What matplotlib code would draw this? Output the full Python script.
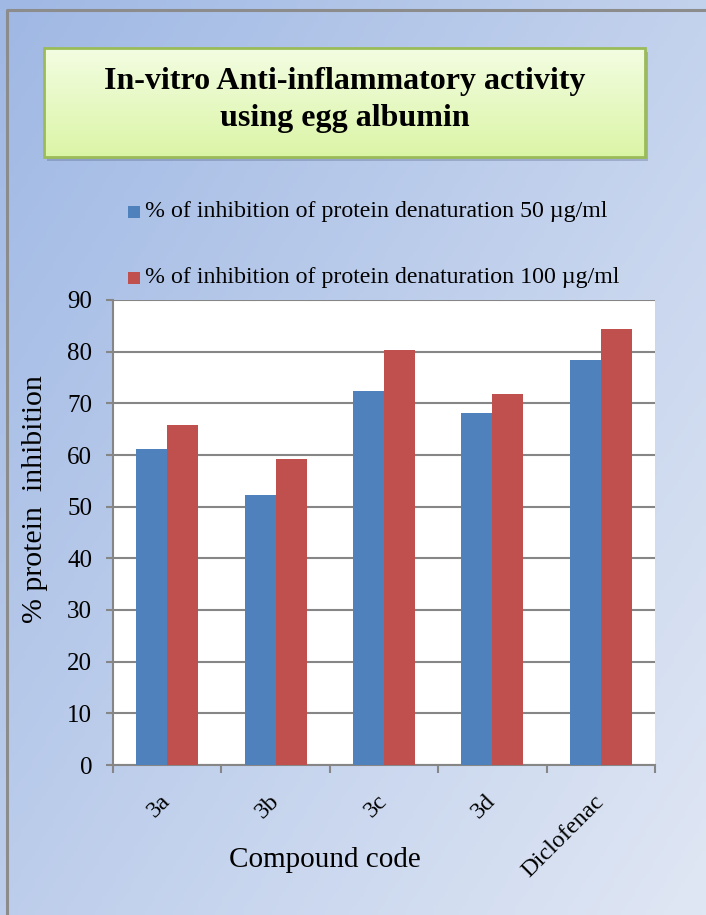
import numpy as np
import matplotlib
matplotlib.use('Agg')
import matplotlib.pyplot as plt
from matplotlib.patches import Rectangle

# In-vitro anti-inflammatory activity (egg albumin denaturation)

compounds = ['3a', '3b', '3c', '3d', 'Diclofenac']
inhib_50 = [61.2, 52.3, 72.3, 68.2, 78.3]
inhib_100 = [65.8, 59.3, 80.4, 71.8, 84.4]
yticks = [0, 10, 20, 30, 40, 50, 60, 70, 80, 90]
series_names = ['% of inhibition of protein denaturation 50 \u00b5g/ml',
                '% of inhibition of protein denaturation 100 \u00b5g/ml']

blue = '#4f81bd'
red = '#c0504d'
grid_col = '#868686'

plt.rcParams['font.family'] = ['Liberation Serif', 'DejaVu Serif']

W, H = 706, 915
fig = plt.figure(figsize=(W / 100, H / 100), dpi=100)

# gradient background
bg = fig.add_axes([0, 0, 1, 1], zorder=-10)
gx, gy = np.meshgrid(np.linspace(0, 1, 200), np.linspace(0, 1, 200))
t = np.clip((gx * 0.55 + gy * 0.45), 0, 1)
c0 = np.array([0x9f, 0xb8, 0xe4]) / 255
c1 = np.array([0xe0, 0xe7, 0xf4]) / 255
img = c0[None, None, :] * (1 - t[..., None]) + c1[None, None, :] * t[..., None]
bg.imshow(img, extent=[0, W, H, 0], aspect='auto')
bg.set_xlim(0, W)
bg.set_ylim(H, 0)
bg.axis('off')
# outer border
bg.plot([7, 7, W + 5], [H + 5, 10, 10], color='#8c8c8c', lw=2.2)

# title box with shadow and green gradient
bx0, by0, bx1, by1 = 44, 48, 645, 157
bg.add_patch(Rectangle((bx0 + 3, by0 + 4), bx1 - bx0, by1 - by0,
                       color='#5a6a8a', alpha=0.35, lw=0))
gy2 = np.linspace(0, 1, 100)[:, None]
ctop = np.array([0xf3, 0xfd, 0xe2]) / 255
cbot = np.array([0xdb, 0xf5, 0xa6]) / 255
bimg = ctop[None, None, :] * (1 - gy2[..., None]) + cbot[None, None, :] * gy2[..., None]
bimg = np.repeat(bimg, 2, axis=1)
bg.imshow(bimg, extent=[bx0, bx1, by1, by0], aspect='auto', zorder=2)
bg.add_patch(Rectangle((bx0, by0), bx1 - bx0, by1 - by0, fill=False,
                       ec='#9bbb59', lw=2, zorder=3))
bg.text((bx0 + bx1) / 2, 100, 'In-vitro Anti-inflammatory activity\nusing egg albumin',
        ha='center', va='center', fontsize=23, fontweight='bold',
        linespacing=1.32, zorder=4)

# legend (manual, to match spacing)
for yc, col, name in [(212, blue, series_names[0]), (278, red, series_names[1])]:
    bg.add_patch(Rectangle((128, yc - 6), 12, 12, color=col, lw=0))
    bg.text(145, yc, name, ha='left', va='center', fontsize=17.2)

# main axes
l, r, top, bot = 113, 655, 300, 765
ax = fig.add_axes([l / W, 1 - bot / H, (r - l) / W, (bot - top) / H])
ax.set_facecolor('white')
x = np.arange(len(compounds))
w = 0.2857
ax.bar(x - w / 2, inhib_50, width=w, color=blue, zorder=3)
ax.bar(x + w / 2, inhib_100, width=w, color=red, zorder=3)

ax.set_xlim(-0.5, len(compounds) - 0.5)
ax.set_ylim(0, 90)
ax.set_yticks(yticks)
ax.yaxis.grid(True, color=grid_col, lw=1.5, zorder=0)
ax.set_axisbelow(True)
for s in ['top', 'right']:
    ax.spines[s].set_visible(False)
for s in ['left', 'bottom']:
    ax.spines[s].set_color(grid_col)
    ax.spines[s].set_linewidth(1.5)
ax.tick_params(axis='y', colors=grid_col, length=5, width=1.5, labelsize=18,
               labelcolor='black', pad=10)
ax.set_xticks(np.arange(-0.5, len(compounds), 1.0))
ax.set_xticklabels([])
ax.tick_params(axis='x', colors=grid_col, length=6, width=1.5)
ax.set_xticks(x, minor=True)
ax.set_xticklabels(compounds, minor=True, rotation=45, ha='right', va='center',
                   rotation_mode='anchor', fontsize=17.5)
ax.tick_params(axis='x', which='minor', length=0, pad=24)

fig.text(35 / W, 1 - 499 / H, '% protein  inhibition', rotation=90,
         ha='center', va='center', fontsize=21.5)
fig.text(325 / W, 1 - 860 / H, 'Compound code', ha='center', va='center',
         fontsize=21)

fig.savefig('out.png', dpi=100)
